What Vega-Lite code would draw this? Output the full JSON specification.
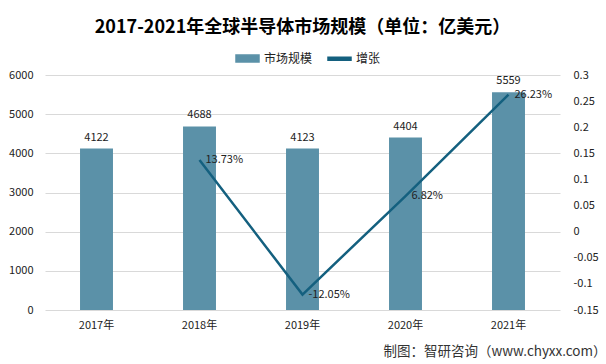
{
  "$schema": "https://vega.github.io/schema/vega-lite/v6.json",
  "width": 515,
  "height": 235,
  "autosize": {"type": "none"},
  "padding": {"left": 45, "top": 75, "right": 46, "bottom": 54},
  "background": "white",
  "config": {
    "locale": {"number": {"decimal": ".", "thousands": ",", "grouping": [3], "currency": ["$", ""], "minus": "-"}},
    "view": {"stroke": null},
    "font": "Noto Sans CJK SC"
  },
  "title": {
    "text": "2017-2021年全球半导体市场规模（单位：亿美元）",
    "font": "Noto Sans CJK SC",
    "fontSize": 18,
    "fontWeight": "bold",
    "color": "#000000",
    "anchor": "middle",
    "frame": "group",
    "offset": 9
  },
  "data": {
    "values": [
      {"year": "2017年", "value": 4122, "growth": null},
      {"year": "2018年", "value": 4688, "growth": 0.1373},
      {"year": "2019年", "value": 4123, "growth": -0.1205},
      {"year": "2020年", "value": 4404, "growth": 0.0682},
      {"year": "2021年", "value": 5559, "growth": 0.2623}
    ]
  },
  "encoding": {
    "x": {
      "field": "year",
      "type": "nominal",
      "sort": null,
      "scale": {"paddingInner": 0.68, "paddingOuter": 0.34},
      "axis": {
        "title": "制图：智研咨询（www.chyxx.com）",
        "titleFont": "Noto Sans CJK SC",
        "titleFontSize": 13.5,
        "titleFontWeight": "normal",
        "titleColor": "#333333",
        "titleAlign": "right",
        "titleAnchor": "end",
        "titleX": 561,
        "titleY": 45,
        "titleBaseline": "alphabetic",
        "labelAngle": 0,
        "labelFont": "Noto Sans CJK SC",
        "labelFontSize": 11,
        "labelColor": "#222222",
        "labelPadding": 9,
        "ticks": false,
        "domain": false
      }
    }
  },
  "layer": [
    {
      "encoding": {
        "y": {
          "field": "value",
          "type": "quantitative",
          "scale": {"domain": [0, 6000], "nice": false},
          "axis": {
            "title": null,
            "values": [0, 1000, 2000, 3000, 4000, 5000, 6000],
            "tickCount": 7,
            "labelOverlap": false,
            "grid": true,
            "gridColor": "#d9d9d9",
            "domain": false,
            "ticks": false,
            "labelPadding": 12,
            "labelFont": "Noto Sans CJK SC",
            "labelFontSize": 11,
            "labelColor": "#222222",
            "format": "d"
          }
        }
      },
      "layer": [
        {
          "mark": {"type": "bar", "color": "#5B91A8"},
          "encoding": {
            "color": {
              "datum": "市场规模",
              "type": "nominal",
              "scale": {"domain": ["市场规模", "增张"], "range": ["#5B91A8", "#14607F"]},
              "legend": {
                "title": null,
                "orient": "none",
                "legendX": 190,
                "legendY": -29,
                "direction": "horizontal",
                "symbolType": "square",
                "symbolSize": 529,
                "labelFont": "Noto Sans CJK SC",
                "labelFontSize": 12,
                "labelColor": "#222222",
                "labelOffset": 4,
                "columnPadding": 12,
                "encode": {
                  "symbols": {
                    "update": {
                      "shape": {"signal": "datum.value === '市场规模' ? 'M-1,-0.3H1V0.3H-1Z' : 'M-1,-0.13H1V0.13H-1Z'"},
                      "fill": {"scale": "color", "field": "value"},
                      "stroke": {"value": "transparent"},
                      "opacity": {"value": 1},
                      "fillOpacity": {"value": 1}
                    }
                  }
                }
              }
            }
          }
        },
        {
          "mark": {"type": "text", "baseline": "bottom", "dy": -6, "fontSize": 11, "color": "#222222", "font": "Noto Sans CJK SC"},
          "encoding": {
            "text": {"field": "value", "type": "quantitative", "format": "d"}
          }
        }
      ]
    },
    {
      "encoding": {
        "y": {
          "field": "growth",
          "type": "quantitative",
          "scale": {"domain": [-0.15, 0.3], "zero": false, "nice": false},
          "axis": {
            "orient": "right",
            "title": null,
            "values": [-0.15, -0.1, -0.05, 0, 0.05, 0.1, 0.15, 0.2, 0.25, 0.3],
            "tickCount": 10,
            "labelOverlap": false,
            "labelExpr": "'' + datum.value",
            "grid": false,
            "domain": false,
            "ticks": false,
            "labelPadding": 13,
            "labelFont": "Noto Sans CJK SC",
            "labelFontSize": 11,
            "labelColor": "#222222"
          }
        }
      },
      "layer": [
        {
          "mark": {"type": "line", "strokeWidth": 2.5, "color": "#14607F"},
          "encoding": {
            "color": {"datum": "增张", "type": "nominal"}
          }
        },
        {
          "mark": {"type": "text", "align": "left", "baseline": "middle", "dx": 6, "fontSize": 11, "color": "#222222", "font": "Noto Sans CJK SC"},
          "encoding": {
            "text": {"field": "growth", "type": "quantitative", "format": ".2%"}
          }
        }
      ]
    }
  ],
  "resolve": {"scale": {"y": "independent"}}
}
